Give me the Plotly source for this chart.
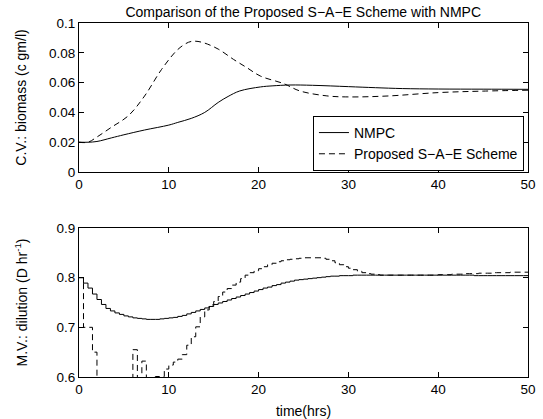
import numpy as np
import plotly.graph_objects as go
from plotly.subplots import make_subplots

# ---- Top plot: biomass (controlled variable) ----
t_nmpc_bio = [0, 1, 2, 3.6, 5, 7.3, 10, 11, 12.5, 14, 15.5, 16.6, 17.9, 20.2, 21.5,
              23.5, 26, 30, 33, 36, 40, 45, 50]
nmpc_bio = [0.020, 0.020, 0.0205, 0.0229, 0.0250, 0.0282, 0.0315, 0.0333, 0.0360,
            0.0400, 0.0467, 0.0507, 0.0544, 0.0571, 0.0578, 0.0584, 0.0582, 0.0573,
            0.0566, 0.0560, 0.0557, 0.0556, 0.0555]

t_sae_bio = [0, 1, 2, 3.6, 5.5, 7.3, 9.2, 11.0, 12.2, 12.9, 13.9, 15.5, 17.2, 18.7,
             20.2, 22.8, 24.6, 27.6, 30, 34.3, 40, 45, 50]
sae_bio = [0.020, 0.020, 0.0235, 0.0300, 0.0378, 0.0510, 0.0689, 0.0822, 0.0871,
           0.0878, 0.0867, 0.0825, 0.0756, 0.0700, 0.0644, 0.0593, 0.0544, 0.0511,
           0.0504, 0.0510, 0.0533, 0.0543, 0.0549]

# ---- Bottom plot: dilution (manipulated variable), sampled every 0.5 hr ----
t_ctrl = np.arange(0, 50.5, 0.5)
nmpc_dil = [
    0.800, 0.789, 0.779, 0.767, 0.756, 0.746, 0.738, 0.733, 0.729, 0.726,   # 0-4.5
    0.723, 0.721, 0.719, 0.718, 0.717, 0.716, 0.716, 0.716, 0.717, 0.718,   # 5-9.5
    0.719, 0.720, 0.722, 0.724, 0.727, 0.730, 0.733, 0.736, 0.739, 0.742,   # 10-14.5
    0.746, 0.749, 0.752, 0.755, 0.758, 0.761, 0.764, 0.767, 0.770, 0.773,   # 15-19.5
    0.776, 0.779, 0.781, 0.784, 0.786, 0.789, 0.791, 0.793, 0.795, 0.796,   # 20-24.5
    0.797, 0.798, 0.799, 0.800, 0.801, 0.802, 0.803, 0.803, 0.804, 0.804,   # 25-29.5
    0.804, 0.805, 0.805, 0.805, 0.805, 0.805, 0.805, 0.805, 0.805, 0.805,   # 30-34.5
    0.805, 0.805, 0.805, 0.805, 0.805, 0.805, 0.805, 0.805, 0.805, 0.805,   # 35-39.5
    0.805, 0.805, 0.805, 0.805, 0.805, 0.805, 0.805, 0.805, 0.804, 0.804,   # 40-44.5
    0.804, 0.804, 0.804, 0.804, 0.804, 0.804, 0.804, 0.804, 0.804, 0.804,   # 45-49.5
    0.804,                                                                  # 50
]
sae_dil = [
    0.800, 0.700, 0.700, 0.650, 0.550, 0.550, 0.550, 0.550, 0.550, 0.550,   # 0-4.5
    0.550, 0.550, 0.655, 0.550, 0.632, 0.550, 0.550, 0.601, 0.601, 0.616,   # 5-9.5
    0.624, 0.630, 0.636, 0.645, 0.664, 0.681, 0.701, 0.721, 0.735, 0.745,   # 10-14.5
    0.752, 0.762, 0.771, 0.778, 0.785, 0.791, 0.798, 0.805, 0.810, 0.814,   # 15-19.5
    0.818, 0.822, 0.826, 0.829, 0.832, 0.834, 0.836, 0.837, 0.838, 0.839,   # 20-24.5
    0.840, 0.840, 0.840, 0.840, 0.839, 0.837, 0.834, 0.830, 0.826, 0.822,   # 25-29.5
    0.819, 0.816, 0.813, 0.810, 0.808, 0.807, 0.806, 0.805, 0.805, 0.805,   # 30-34.5
    0.805, 0.805, 0.805, 0.805, 0.805, 0.805, 0.805, 0.805, 0.805, 0.805,   # 35-39.5
    0.806, 0.806, 0.806, 0.807, 0.807, 0.807, 0.808, 0.808, 0.808, 0.809,   # 40-44.5
    0.809, 0.809, 0.810, 0.810, 0.810, 0.810, 0.811, 0.811, 0.811, 0.811,   # 45-49.5
    0.811,                                                                  # 50
]

x_ticks = [0, 10, 20, 30, 40, 50]
bio_ticks = [0, 0.02, 0.04, 0.06, 0.08, 0.1]
bio_tick_labels = ["0", "0.02", "0.04", "0.06", "0.08", "0.1"]
dil_ticks = [0.6, 0.7, 0.8, 0.9]
dil_tick_labels = ["0.6", "0.7", "0.8", "0.9"]

FONT = "Liberation Sans, Arial, Helvetica, sans-serif"
DASH = "6px,4px"

fig = make_subplots(rows=2, cols=1, vertical_spacing=0.158)

fig.add_trace(go.Scatter(x=t_nmpc_bio, y=nmpc_bio, mode="lines", name="NMPC",
                         line=dict(color="black", width=1, shape="spline")),
              row=1, col=1)
fig.add_trace(go.Scatter(x=t_sae_bio, y=sae_bio, mode="lines",
                         name="Proposed S\u2212A\u2212E Scheme",
                         line=dict(color="black", width=1, dash=DASH, shape="spline")),
              row=1, col=1)
fig.add_trace(go.Scatter(x=t_ctrl, y=nmpc_dil, mode="lines", showlegend=False,
                         line=dict(color="black", width=1, shape="hv")),
              row=2, col=1)
fig.add_trace(go.Scatter(x=t_ctrl, y=sae_dil, mode="lines", showlegend=False,
                         line=dict(color="black", width=1, dash=DASH, shape="hv")),
              row=2, col=1)

axis_common = dict(showgrid=False, zeroline=False, showline=True, linecolor="black",
                   linewidth=1, mirror="ticks", ticks="inside", ticklen=5,
                   tickcolor="black", tickfont=dict(size=13.5, color="black"),
                   automargin=False)

fig.update_xaxes(range=[0, 50], tickvals=x_ticks, ticktext=[str(v) for v in x_ticks],
                 **axis_common)
fig.update_yaxes(**axis_common)

fig.update_yaxes(range=[0, 0.1], tickvals=bio_ticks, ticktext=bio_tick_labels,
                 title=dict(text="C.V.: biomass (c gm/l)", font=dict(size=14), standoff=19),
                 row=1, col=1)
fig.update_yaxes(range=[0.6, 0.9], tickvals=dil_ticks, ticktext=dil_tick_labels,
                 title=dict(text="M.V.: dilution (D hr<sup>-1</sup>)", font=dict(size=14),
                            standoff=25),
                 row=2, col=1)
fig.update_xaxes(title=dict(text="time(hrs)", font=dict(size=14), standoff=9),
                 row=2, col=1)

fig.update_layout(
    width=543, height=419,
    margin=dict(l=79, r=15, t=23, b=42),
    paper_bgcolor="white", plot_bgcolor="white",
    font=dict(family=FONT, color="black", size=14),
    title=dict(text="Comparison of the Proposed S\u2212A\u2212E Scheme with NMPC",
               x=0.5585, xanchor="center", y=0.972, yanchor="middle",
               font=dict(size=14)),
    legend=dict(x=0.991, y=0.582, xanchor="right", yanchor="bottom",
                bgcolor="white", bordercolor="black", borderwidth=1,
                font=dict(size=14), tracegroupgap=0, itemwidth=30),
    showlegend=True,
)

fig.write_html("out.html",
               config={"displayModeBar": False},
               post_script="document.body.style.margin='0';"
                           "document.body.style.overflow='hidden';")
